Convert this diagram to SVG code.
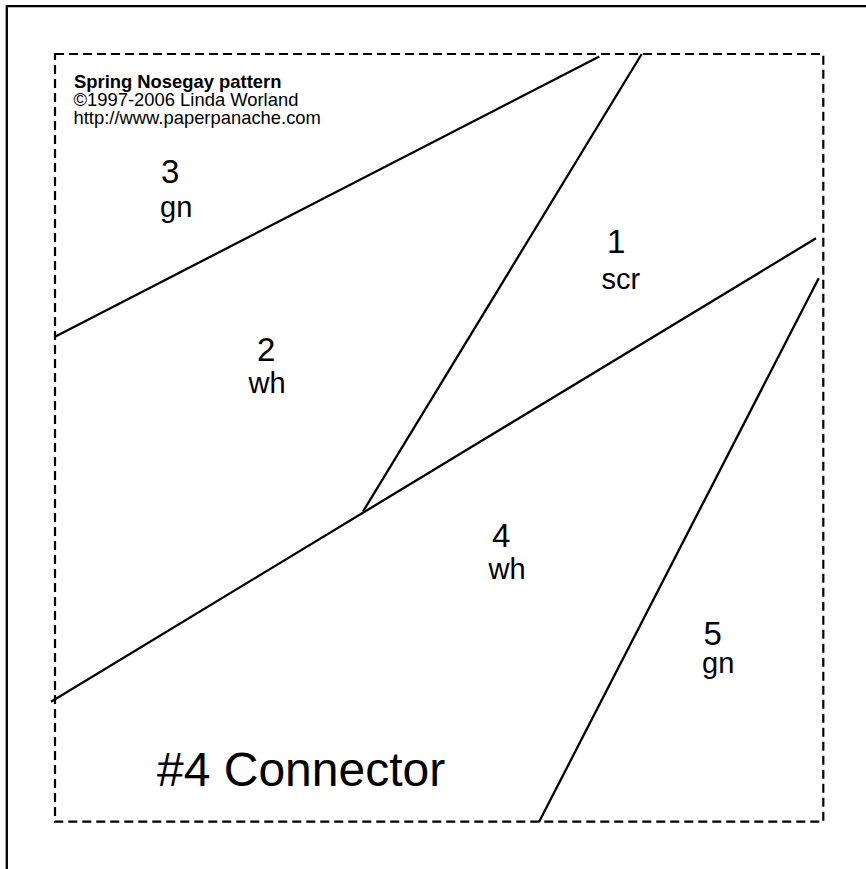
<svg xmlns="http://www.w3.org/2000/svg" width="866" height="869" viewBox="0 0 866 869">
  <style>
    .frame { fill: none; stroke: #000; stroke-width: 2.3; }
    .dash { fill: none; stroke: #000; stroke-width: 2.2; stroke-dasharray: 9 5; }
    .seam { fill: none; stroke: #000; stroke-width: 2.3; stroke-linecap: butt; }
    .num { font-family: "Liberation Sans", Arial, sans-serif; font-size: 33px; fill: #000; }
    .col { font-family: "Liberation Sans", Arial, sans-serif; font-size: 29px; fill: #000; }
    .hdr { font-family: "Liberation Sans", Arial, sans-serif; font-size: 18.4px; fill: #000; }
    .big { font-family: "Liberation Sans", Arial, sans-serif; font-size: 48px; fill: #000; }
  </style>
  <rect width="866" height="869" fill="#fff"/>
  <g id="frame">
    <polyline class="frame" points="6.8,869 6.8,6.2 866,6.2"/>
    <rect class="dash" x="55" y="54" width="768.3" height="767.7"/>
  </g>
  <g id="header">
    <text class="hdr" x="74" y="87.5" font-weight="bold">Spring Nosegay pattern</text>
    <text class="hdr" x="73.5" y="105.5">©1997-2006 Linda Worland</text>
    <text class="hdr" x="73.5" y="123.5">http://www.paperpanache.com</text>
  </g>
  <g id="connectors">
    <line class="seam" x1="55" y1="336.7" x2="599.3" y2="56.5"/>
    <line class="seam" x1="641.7" y1="54" x2="363" y2="511.5"/>
    <line class="seam" x1="816" y1="238.3" x2="51" y2="701.7"/>
    <line class="seam" x1="818.7" y1="278.3" x2="539" y2="822"/>
  </g>
  <g id="piece-3">
    <text class="num" x="161" y="183.3">3</text>
    <text class="col" x="160" y="217.3">gn</text>
  </g>
  <g id="piece-2">
    <text class="num" x="257" y="360.7">2</text>
    <text class="col" x="248.5" y="392.5">wh</text>
  </g>
  <g id="piece-1">
    <text class="num" x="607" y="253.3">1</text>
    <text class="col" x="601.5" y="289">scr</text>
  </g>
  <g id="piece-4">
    <text class="num" x="492" y="547.3">4</text>
    <text class="col" x="488.5" y="579">wh</text>
  </g>
  <g id="piece-5">
    <text class="num" x="703.5" y="645">5</text>
    <text class="col" x="702" y="673.3">gn</text>
  </g>
  <g id="title">
    <text class="big" x="157" y="786">#4 Connector</text>
  </g>
</svg>
